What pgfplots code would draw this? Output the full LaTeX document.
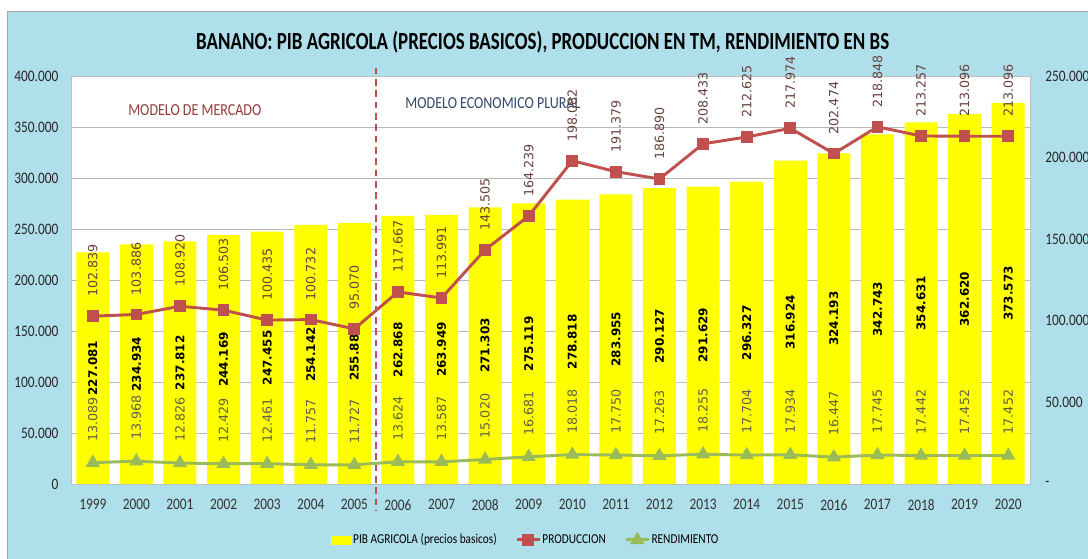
\documentclass[border=0pt]{standalone}
\usepackage{fontspec}
\setmainfont{Carlito}
\newfontfamily\dejavu{DejaVu Sans}
\usepackage{graphicx}
\usepackage{pgfplots}
\usepackage{pgfplotstable}
\pgfplotsset{compat=1.18}
\definecolor{bgblue}{RGB}{174,223,234}
\definecolor{barY}{RGB}{255,255,0}
\definecolor{prodred}{RGB}{192,80,77}
\definecolor{rendgreen}{RGB}{155,187,89}
\definecolor{prodlab}{RGB}{105,65,60}
\definecolor{rendlab}{RGB}{95,95,75}
\definecolor{mercado}{RGB}{150,60,60}
\definecolor{plural}{RGB}{50,70,110}
\definecolor{dashred}{RGB}{190,80,80}

\pgfplotstableread{
x pib prod rend
0 227081 102839 13089
1 234934 103886 13968
2 237812 108920 12826
3 244169 106503 12429
4 247455 100435 12461
5 254142 100732 11757
6 255883 95070 11727
7 262868 117667 13624
8 263949 113991 13587
9 271303 143505 15020
10 275119 164239 16681
11 278818 198082 18018
12 283955 191379 17750
13 290127 186890 17263
14 291629 208433 18255
15 296327 212625 17704
16 316924 217974 17934
17 324193 202474 16447
18 342743 218848 17745
19 354631 213257 17442
20 362620 213096 17452
21 373573 213096 17452
}\data

\newcommand{\tall}[1]{\scalebox{1}[1.2]{#1}}

\begin{document}
\begin{tikzpicture}
\useasboundingbox (0,0) rectangle (816pt,419.25pt);
\fill[white] (0,0) rectangle (816pt,419.25pt);
\fill[bgblue] (5.25pt,0) rectangle (816pt,411pt);
\draw[gray!70] (5.25pt,0) -- (5.25pt,411pt) -- (816pt,411pt);
\node[font=\bfseries\fontsize{14.2}{16}\selectfont] at (407pt,387.75pt) {\scalebox{1}[1.3]{BANANO: PIB AGRICOLA (PRECIOS BASICOS), PRODUCCION EN TM, RENDIMIENTO EN BS}};

\begin{axis}[
  at={(53.25pt,56.25pt)}, anchor=south west,
  scale only axis, width=719.25pt, height=306pt,
  xmin=-0.5, xmax=21.5, ymin=0, ymax=400000,
  axis background/.style={fill=white},
  axis line style={gray!50},
  xtick={0,...,21},
  xticklabels={\tall{1999},\tall{2000},\tall{2001},\tall{2002},\tall{2003},\tall{2004},\tall{2005},\tall{2006},\tall{2007},\tall{2008},\tall{2009},\tall{2010},\tall{2011},\tall{2012},\tall{2013},\tall{2014},\tall{2015},\tall{2016},\tall{2017},\tall{2018},\tall{2019},\tall{2020}},
  xticklabel style={font=\fontsize{10}{12}\selectfont, text=black!80, yshift=-8pt},
  ytick={0,50000,...,400000},
  ymajorgrids, grid style={gray!55, line width=0.6pt},
  major tick length=0pt,
  scaled y ticks=false,
  yticklabel={\tall{\pgfmathprintnumber[fixed,1000 sep={.},assume math mode=true]{\tick}}},
  yticklabel style={font=\fontsize{10}{12}\selectfont, text=black!85, xshift=-6pt},
  clip=false,
]
\addplot[ybar, bar width=24.75pt, fill=barY, draw=none, forget plot] table[x=x,y=pib]{\data};
\addplot[draw=none, mark=none, forget plot, point meta=explicit,
  nodes near coords={\pgfmathprintnumber[fixed,precision=0,1000 sep={.},assume math mode=true]{\pgfplotspointmeta}},
  nodes near coords style={rotate=90, anchor=center, font=\dejavu\bfseries\fontsize{9}{10}\selectfont, text=black}]
  table[x=x, y expr=\thisrow{pib}/2, meta=pib]{\data};
\draw[dashred, line width=1.1pt, dash pattern=on 5pt off 3.5pt] (axis cs:6.5,408000) -- (axis cs:6.5,-25500);
\node[font=\fontsize{10.5}{12}\selectfont, text=mercado] at (axis cs:2.34,366700) {\tall{MODELO DE MERCADO}};
\node[font=\fontsize{10.5}{12}\selectfont, text=plural] at (axis cs:9.18,373500) {\tall{MODELO ECONOMICO PLURAL}};
\end{axis}

\begin{axis}[
  at={(53.25pt,56.25pt)}, anchor=south west,
  scale only axis, width=719.25pt, height=306pt,
  xmin=-0.5, xmax=21.5, ymin=0, ymax=250000,
  axis y line*=right, axis x line=none,
  axis line style={gray!50},
  scaled y ticks=false,
  ytick={0,50000,...,250000},
  yticklabels={\tall{-},\tall{50.000},\tall{100.000},\tall{150.000},\tall{200.000},\tall{250.000}},
  yticklabel style={font=\fontsize{10}{12}\selectfont, text=black!85, xshift=8pt},
  major tick length=0pt,
  clip=false,
  legend columns=3,
  legend style={at={(0.474,-0.137)}, anchor=center, draw=none, fill=none,
    font=\fontsize{8.5}{10}\selectfont,
    nodes={inner xsep=1pt},
    /tikz/every odd column/.append style={column sep=0pt},
    /tikz/every even column/.append style={column sep=13pt}},
]
\addlegendimage{legend image code/.code={\fill[barY] (0pt,-3pt) rectangle (15pt,3pt);}}
\addlegendentry{\tall{PIB AGRICOLA (precios basicos)}}
\addplot[prodred, line width=2.2pt, mark=square*, mark size=3.3pt, mark options={solid},
  point meta=explicit,
  nodes near coords={\pgfmathprintnumber[fixed,precision=0,1000 sep={.},assume math mode=true]{\pgfplotspointmeta}},
  nodes near coords style={rotate=90, anchor=west, inner sep=0pt, outer xsep=14.5pt, font=\dejavu\fontsize{9.5}{10}\selectfont, text=prodlab}]
  table[x=x,y=prod,meta=prod]{\data};
\addlegendentry{\tall{PRODUCCION}}
\addplot[rendgreen, line width=2.2pt, mark=triangle*, mark size=4pt, mark options={solid},
  point meta=explicit,
  nodes near coords={\pgfmathprintnumber[fixed,precision=0,1000 sep={.},assume math mode=true]{\pgfplotspointmeta}},
  nodes near coords style={rotate=90, anchor=west, inner sep=0pt, outer xsep=16pt, font=\dejavu\fontsize{9.5}{10}\selectfont, text=rendlab}]
  table[x=x,y=rend,meta=rend]{\data};
\addlegendentry{\tall{RENDIMIENTO}}
\end{axis}
\end{tikzpicture}
\end{document}
